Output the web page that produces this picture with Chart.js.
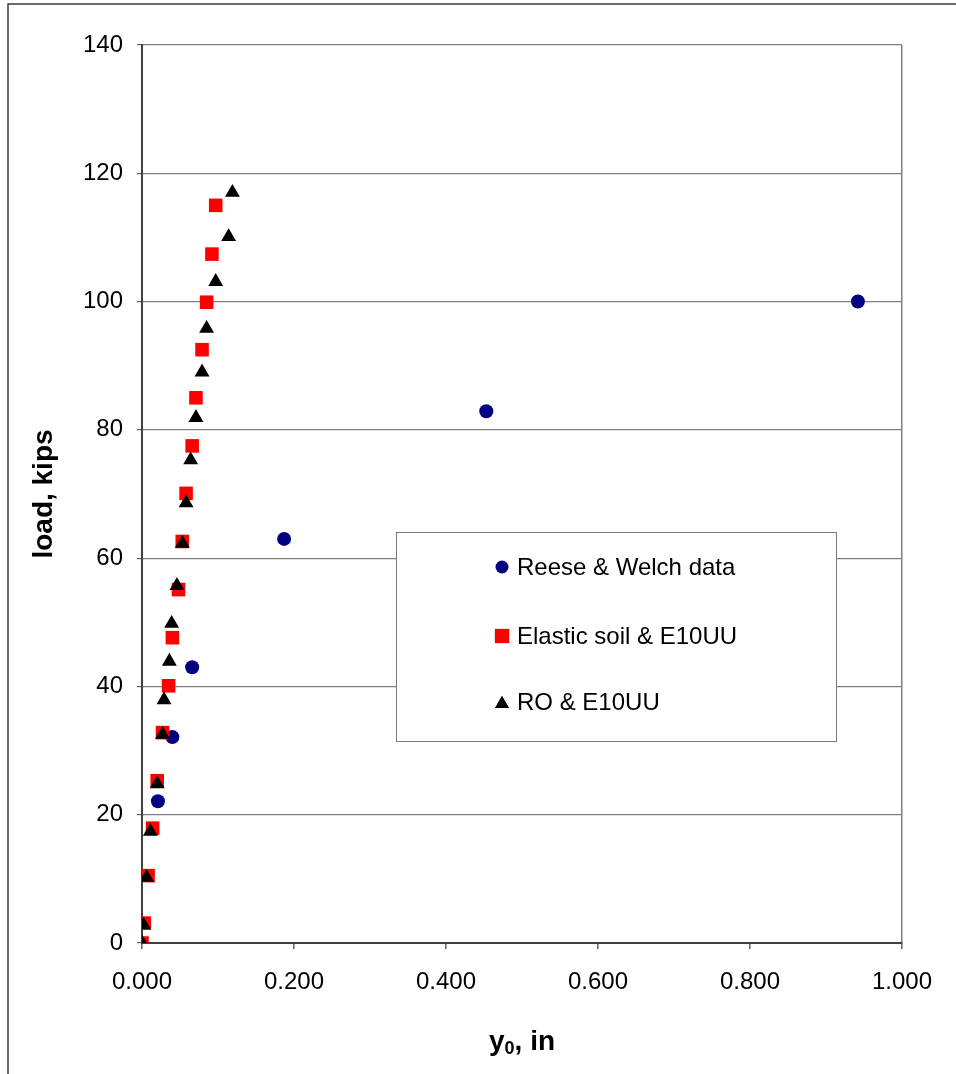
<!DOCTYPE html>
<html>
<head>
<meta charset="utf-8">
<script src="https://cdn.jsdelivr.net/npm/chart.js@4.4.1/dist/chart.umd.min.js"></script>
<style>
  html, body { margin: 0; padding: 0; background: #ffffff; }
  canvas { display: block; }
</style>
</head>
<body>
<canvas id="c" width="956" height="1074"></canvas>
<script>
// Lateral load test: pile-head deflection y0 (in) against applied load (kips)
const seriesNames = ['Reese & Welch data', 'Elastic soil & E10UU', 'RO & E10UU'];

const reeseY0   = [0.021, 0.040, 0.066, 0.187, 0.453, 0.942];
const reeseLoad = [22.1, 32.1, 43.0, 63.0, 82.9, 100.0];

const elasticY0   = [0.000, 0.003, 0.008, 0.014, 0.020, 0.027, 0.035, 0.040, 0.048, 0.053,
                     0.058, 0.066, 0.071, 0.079, 0.085, 0.092, 0.097];
const elasticLoad = [0.0, 3.1, 10.5, 17.9, 25.3, 32.8, 40.1, 47.6, 55.1, 62.6,
                     70.1, 77.5, 85.0, 92.5, 99.9, 107.4, 115.0];

const roY0   = [0.000, 0.002, 0.006, 0.011, 0.020, 0.027, 0.029, 0.036, 0.039, 0.046,
                0.053, 0.058, 0.064, 0.071, 0.079, 0.085, 0.097, 0.114, 0.119];
const roLoad = [0.0, 2.8, 10.2, 17.4, 24.8, 32.5, 37.9, 43.9, 49.8, 55.7,
                62.3, 68.6, 75.3, 81.9, 89.0, 95.8, 103.1, 110.1, 117.0];

const xTicks = [0, 0.2, 0.4, 0.6, 0.8, 1.0];
const yTicks = [0, 20, 40, 60, 80, 100, 120, 140];

const xTitleParts = ['y', '0', ', in'];

const pts = (xs, ys) => xs.map((x, i) => ({ x: x, y: ys[i] }));

const FONT = "'Liberation Sans', Arial, sans-serif";

// White background plus the frame's left and top edges
const framePlugin = {
  id: 'frame',
  beforeDraw(chart) {
    const ctx = chart.ctx;
    ctx.save();
    ctx.fillStyle = '#ffffff';
    ctx.fillRect(0, 0, chart.width, chart.height);
    ctx.strokeStyle = '#3a3a3a';
    ctx.lineWidth = 1.5;
    ctx.beginPath();
    ctx.moveTo(8, chart.height);
    ctx.lineTo(8, 4);
    ctx.lineTo(chart.width, 4);
    ctx.stroke();
    ctx.restore();
  }
};

// x-axis title with a true subscript zero, centred under the plot area
const xTitlePlugin = {
  id: 'xTitle',
  afterDraw(chart) {
    const ctx = chart.ctx;
    const area = chart.chartArea;
    const big = 'bold 28px ' + FONT;
    const small = 'bold 18px ' + FONT;
    ctx.save();
    ctx.fillStyle = '#000000';
    ctx.textBaseline = 'alphabetic';
    ctx.textAlign = 'left';
    ctx.font = big;
    const w0 = ctx.measureText(xTitleParts[0]).width;
    const w2 = ctx.measureText(xTitleParts[2]).width;
    ctx.font = small;
    const w1 = ctx.measureText(xTitleParts[1]).width;
    const total = w0 + w1 + w2;
    let x = (area.left + area.right) / 2 - total / 2;
    const base = 1050;
    ctx.font = big;
    ctx.fillText(xTitleParts[0], x, base);
    x += w0;
    ctx.font = small;
    ctx.fillText(xTitleParts[1], x, base + 4);
    x += w1;
    ctx.font = big;
    ctx.fillText(xTitleParts[2], x, base);
    ctx.restore();
  }
};

// Boxed legend placed inside the plot
const boxLegendPlugin = {
  id: 'boxLegend',
  afterDraw(chart) {
    const ctx = chart.ctx;
    const box = { x: 396, y: 532, w: 440, h: 209 };
    ctx.save();
    ctx.fillStyle = '#ffffff';
    ctx.fillRect(box.x, box.y, box.w, box.h);
    ctx.strokeStyle = '#7a7a7a';
    ctx.lineWidth = 1;
    ctx.strokeRect(box.x + 0.5, box.y + 0.5, box.w, box.h);
    const rows = [567, 636, 702];
    ctx.font = '24px ' + FONT;
    ctx.textBaseline = 'middle';
    ctx.textAlign = 'left';
    chart.data.datasets.forEach((ds, i) => {
      const r = ds.legendRadius;
      Chart.helpers.drawPoint(ctx, {
        pointStyle: ds.pointStyle,
        radius: r,
        rotation: 0,
        borderWidth: 0
      }, 502, rows[i] + (ds.pointStyle === 'triangle' ? 2 : 0));
      ctx.fillStyle = ds.backgroundColor;
      ctx.fill();
      ctx.fillStyle = '#000000';
      ctx.fillText(ds.label, 517, rows[i] + 1);
    });
    ctx.restore();
  }
};

new Chart(document.getElementById('c'), {
  type: 'scatter',
  data: {
    datasets: [
      {
        label: seriesNames[0],
        data: pts(reeseY0, reeseLoad),
        pointStyle: 'circle',
        pointRadius: 7,
        legendRadius: 6.5,
        backgroundColor: '#000080',
        borderColor: '#000080',
        borderWidth: 0,
        order: 3
      },
      {
        label: seriesNames[1],
        data: pts(elasticY0, elasticLoad),
        pointStyle: 'rect',
        pointRadius: 9.6,
        legendRadius: 10,
        backgroundColor: '#ff0000',
        borderColor: '#ff0000',
        borderWidth: 0,
        order: 2
      },
      {
        label: seriesNames[2],
        data: pts(roY0, roLoad),
        pointStyle: 'triangle',
        pointRadius: 8.6,
        legendRadius: 8,
        backgroundColor: '#000000',
        borderColor: '#000000',
        borderWidth: 0,
        order: 1
      }
    ]
  },
  options: {
    responsive: false,
    animation: false,
    devicePixelRatio: 1,
    layout: { padding: { left: 0, top: 45, right: 54, bottom: 0 } },
    plugins: {
      legend: { display: false },
      tooltip: { enabled: false }
    },
    scales: {
      x: {
        type: 'linear',
        min: 0,
        max: 1,
        afterBuildTicks(scale) { scale.ticks = xTicks.map(v => ({ value: v })); },
        afterFit(scale) { scale.height = 131; },
        border: { display: true, color: '#404040', width: 2 },
        grid: {
          drawOnChartArea: true,
          drawTicks: true,
          tickLength: 6,
          tickColor: '#606060',
          color: ctx => (ctx.tick && ctx.tick.value === 1) ? '#808080' : 'rgba(0,0,0,0)',
          lineWidth: 1.5
        },
        ticks: {
          color: '#000000',
          padding: 19,
          maxRotation: 0,
          font: { family: FONT, size: 24 },
          callback: v => Number(v).toFixed(3)
        },
        title: { display: false }
      },
      y: {
        type: 'linear',
        min: 0,
        max: 140,
        afterBuildTicks(scale) { scale.ticks = yTicks.map(v => ({ value: v })); },
        afterFit(scale) { scale.width = 142; },
        border: { display: true, color: '#404040', width: 2 },
        grid: {
          drawOnChartArea: true,
          drawTicks: true,
          tickLength: 5,
          tickColor: '#606060',
          color: '#808080',
          lineWidth: 1.2
        },
        ticks: {
          color: '#000000',
          padding: 14,
          font: { family: FONT, size: 24 }
        },
        title: {
          display: true,
          text: 'load, kips',
          color: '#000000',
          font: { family: FONT, size: 28, weight: 'bold' },
          padding: { top: 27, bottom: 27 }
        }
      }
    }
  },
  plugins: [framePlugin, boxLegendPlugin, xTitlePlugin]
});
</script>
</body>
</html>
